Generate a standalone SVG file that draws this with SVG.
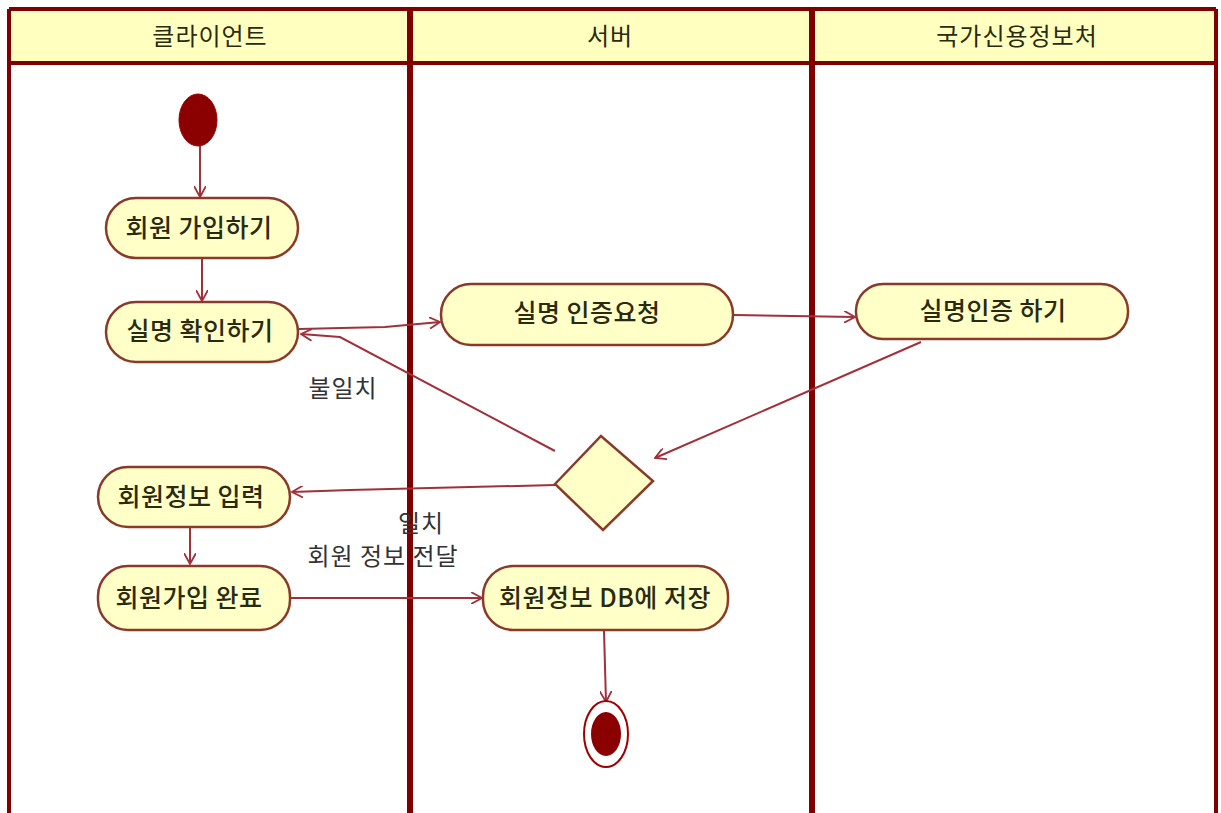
<svg xmlns="http://www.w3.org/2000/svg" width="1221" height="813" viewBox="0 0 1221 813">
<defs>
<style>
.hd{font-family:"Noto Sans CJK KR","Noto Sans",sans-serif;font-size:24px;fill:#2a2a10;text-anchor:middle;letter-spacing:1px}
.act{fill:#FFFFC8;stroke:#8B3A2A;stroke-width:2.5}
.at{font-family:"Noto Sans CJK KR","Noto Sans",sans-serif;font-size:25px;fill:#2a2a10;text-anchor:middle;font-weight:500;letter-spacing:0.5px}
.lbl{font-family:"Noto Sans CJK KR","Noto Sans",sans-serif;font-size:24px;fill:#333;text-anchor:middle;letter-spacing:1px}
.c{fill:none;stroke:#A0303A;stroke-width:2;marker-end:url(#ah)}
</style>
<marker id="ah" viewBox="0 0 12 12" refX="11" refY="6" markerWidth="12" markerHeight="12" markerUnits="userSpaceOnUse" orient="auto">
<path d="M0,0 L11,6 L0,12" fill="none" stroke="#A0303A" stroke-width="1.8"/>
</marker>
</defs>
<rect width="1221" height="813" fill="#ffffff"/>
<g id="swimlanes">
<rect x="9" y="9" width="1207" height="54" fill="#FFFFC0"/>
<line x1="9" y1="9" x2="1216" y2="9" stroke="#800000" stroke-width="4"/>
<line x1="9" y1="63" x2="1216" y2="63" stroke="#800000" stroke-width="4"/>
<line x1="9" y1="9" x2="9" y2="813" stroke="#800000" stroke-width="4"/>
<line x1="1216" y1="9" x2="1216" y2="813" stroke="#800000" stroke-width="4"/>
<line x1="410" y1="9" x2="410" y2="813" stroke="#800000" stroke-width="6"/>
<line x1="812" y1="9" x2="812" y2="813" stroke="#800000" stroke-width="6"/>
<text class="hd" x="210" y="45">클라이언트</text>
<text class="hd" x="610" y="45">서버</text>
<text class="hd" x="1017" y="45">국가신용정보처</text>
</g>
<g id="connectors">
<line class="c" x1="200" y1="146" x2="200" y2="197"/>
<line class="c" x1="202" y1="259" x2="202" y2="301"/>
<polyline class="c" points="299,329 385,327 440,322"/>
<line class="c" x1="734" y1="315" x2="855" y2="317"/>
<line class="c" x1="921" y1="342" x2="655" y2="458"/>
<polyline class="c" points="555,451 340,337 301,334"/>
<polyline class="c" points="555,485 350,490 292,492"/>
<line class="c" x1="190" y1="528" x2="190" y2="564"/>
<line class="c" x1="291" y1="598" x2="482" y2="598"/>
<line class="c" x1="604" y1="631" x2="606" y2="702"/>
<text class="lbl" x="343" y="397">불일치</text>
<text class="lbl" x="421" y="532">일치</text>
<text class="lbl" x="383" y="565">회원 정보 전달</text>
</g>
<g id="start"><ellipse cx="198" cy="120" rx="19" ry="26" fill="#8B0000" stroke="#A00000" stroke-width="1"/></g>
<g id="a1"><rect class="act" x="106" y="198" width="192" height="60" rx="30" ry="30"/><text class="at" x="199" y="237">회원 가입하기</text></g>
<g id="a2"><rect class="act" x="106" y="302" width="192" height="60" rx="30" ry="30"/><text class="at" x="200" y="340">실명 확인하기</text></g>
<g id="a3"><rect class="act" x="441" y="284" width="292" height="61" rx="30" ry="30"/><text class="at" x="587" y="322">실명 인증요청</text></g>
<g id="a4"><rect class="act" x="856" y="284" width="272" height="55" rx="27" ry="27"/><text class="at" x="993" y="320">실명인증 하기</text></g>
<g id="decision"><polygon class="act" points="555,484 601,436 653,481 603,530"/></g>
<g id="a5"><rect class="act" x="98" y="467" width="192" height="60" rx="30" ry="30"/><text class="at" x="191" y="506">회원정보 입력</text></g>
<g id="a6"><rect class="act" x="98" y="566" width="192" height="64" rx="30" ry="30"/><text class="at" x="189" y="607">회원가입 완료</text></g>
<g id="a7"><rect class="act" x="483" y="566" width="245" height="64" rx="30" ry="30"/><text class="at" x="605" y="607">회원정보 DB에 저장</text></g>
<g id="end"><ellipse cx="606" cy="734" rx="22" ry="33" fill="#fff" stroke="#A00000" stroke-width="2"/><ellipse cx="606" cy="734" rx="15" ry="22" fill="#8B0000"/></g>
</svg>
